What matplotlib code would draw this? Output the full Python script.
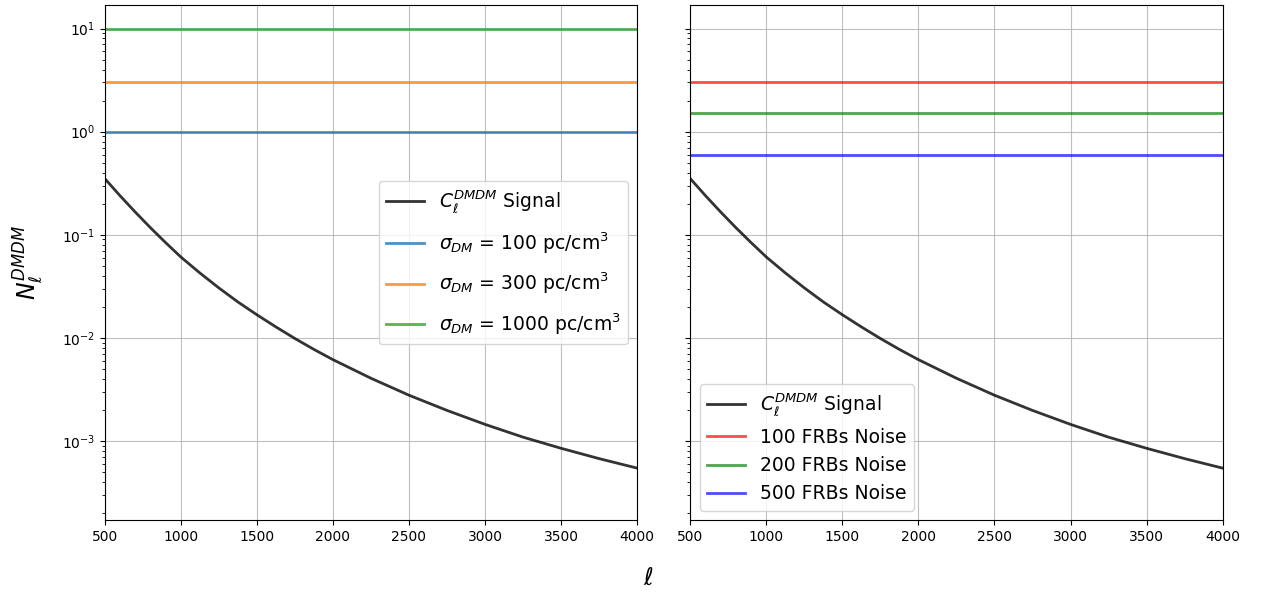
import numpy as np
import matplotlib
matplotlib.use("Agg")
import matplotlib.pyplot as plt

# multipoles and signal
ell = [500, 600, 700, 800, 900, 1000, 1125, 1250, 1375, 1500, 1625, 1750, 1875, 2000,
       2250, 2500, 2750, 3000, 3250, 3500, 3750, 4000]
signal = [0.35, 0.239, 0.166, 0.117, 0.0838, 0.0608, 0.0426, 0.0305, 0.0223, 0.01675,
          0.01277, 0.00986, 0.00773, 0.00615, 0.00406, 0.00278, 0.00198, 0.00145,
          0.00109, 0.00085, 0.000675, 0.000546]

# noise levels
sigma_dm = [100, 300, 1000]
sigma_noise = [1.0, 3.0, 10.0]
n_frbs = [100, 200, 500]
frb_noise = [3.0, 1.5, 0.6]

fig, (ax1, ax2) = plt.subplots(1, 2, figsize=(12.63, 5.92), dpi=100, sharey=True)
fig.subplots_adjust(left=0.083, right=0.968, top=0.992, bottom=0.121, wspace=0.1)

ax1.plot(ell, signal, color="black", alpha=0.8, lw=2, label=r"$C_\ell^{DMDM}$ Signal")
for s, n, c in zip(sigma_dm, sigma_noise, ["tab:blue", "tab:orange", "tab:green"]):
    ax1.plot([ell[0], ell[-1]], [n, n], color=c, alpha=0.8, lw=2,
             label=r"$\sigma_{DM}$ = %d pc/cm$^3$" % s)
ax1.legend(loc="center right", fontsize=13.5, labelspacing=0.8)

ax2.plot(ell, signal, color="black", alpha=0.8, lw=2, label=r"$C_\ell^{DMDM}$ Signal")
for f, n, c in zip(n_frbs, frb_noise, ["red", "green", "blue"]):
    ax2.plot([ell[0], ell[-1]], [n, n], color=c, alpha=0.7, lw=2,
             label="%d FRBs Noise" % f)
ax2.legend(loc="lower left", fontsize=13.5)

for ax in (ax1, ax2):
    ax.set_yscale("log")
    ax.set_xlim(500, 4000)
    ax.set_ylim(1.7e-4, 17)
    ax.set_xticks(np.arange(500, 4001, 500))
    ax.grid(True, color="#b0b0b0", alpha=0.8)

ax1.set_ylabel(r"$N_\ell^{DMDM}$", fontsize=17, labelpad=12)
fig.text(0.513, 0.012, r"$\ell$", fontsize=17, ha="center")

plt.savefig("out.png", dpi=100)
